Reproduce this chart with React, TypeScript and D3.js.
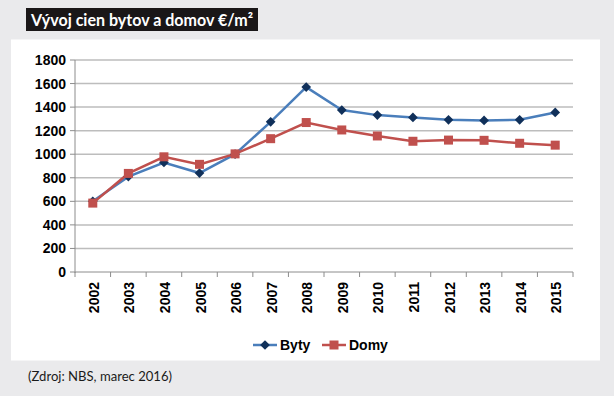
import React from "react";
import * as d3 from "d3";

const years = ["2002","2003","2004","2005","2006","2007","2008","2009","2010","2011","2012","2013","2014","2015"];
const byty = [600, 810, 930, 840, 1000, 1275, 1570, 1375, 1332, 1312, 1292, 1287, 1292, 1355];
const domy = [585, 837, 978, 914, 1003, 1132, 1269, 1206, 1155, 1110, 1120, 1118, 1093, 1077];
const yTicks = [0, 200, 400, 600, 800, 1000, 1200, 1400, 1600, 1800];
const seriesNames = ["Byty", "Domy"];
const titleText = "Vývoj cien bytov a domov €/m²";
const sourceText = "(Zdroj: NBS, marec 2016)";

export default function App() {
  const W = 614, H = 396;
  const left = 75, right = 573, top = 60, bottom = 272;
  const x = d3.scaleBand<string>().domain(years).range([left, right]).padding(0);
  const y = d3.scaleLinear().domain([0, 1800]).range([bottom, top]);
  const cx = (yr: string) => (x(yr) as number) + x.bandwidth() / 2;
  const line = d3.line<number>().x((_, i) => cx(years[i])).y((d) => y(d));
  const blue = "#4a7ebb";
  const navy = "#10305a";
  const red = "#c0504d";
  const axisFont = "'Liberation Sans', Arial, sans-serif";
  const diamond = d3.symbol().type(d3.symbolDiamond2).size(60)() as string;
  const boundaries = years.map((yr) => x(yr) as number).concat([right]);

  return (
    <svg width={W} height={H} style={{ position: "absolute", left: 0, top: 0 }}>
      <rect x={0} y={0} width={W} height={H} fill="#eaeaec" />
      <rect x={11} y={39.5} width={589} height={321} fill="#ffffff" />
      <rect x={26} y={8} width={232} height={23} fill="#1a1718" />
      <text x={31} y={26} fill="#ffffff" fontFamily="Lato, 'Noto Sans', sans-serif" fontWeight={700}
        fontSize={17} textLength={222} lengthAdjust="spacingAndGlyphs">{titleText}</text>

      {yTicks.filter((t) => t > 0).map((t) => (
        <line key={"g" + t} x1={left} x2={right} y1={y(t)} y2={y(t)} stroke="#bdbdbd" strokeWidth={1.5} />
      ))}
      <line x1={left} x2={left} y1={top} y2={bottom + 1} stroke="#8c8c8c" strokeWidth={1} />
      <line x1={left} x2={right} y1={bottom} y2={bottom} stroke="#8c8c8c" strokeWidth={1} />
      {yTicks.map((t) => (
        <line key={"yt" + t} x1={left - 5} x2={left} y1={y(t)} y2={y(t)} stroke="#8c8c8c" strokeWidth={1} />
      ))}
      {boundaries.map((b, i) => (
        <line key={"xt" + i} x1={b} x2={b} y1={bottom} y2={bottom + 5} stroke="#8c8c8c" strokeWidth={1} />
      ))}
      {yTicks.map((t) => (
        <text key={"yl" + t} x={66} y={y(t)} dy="0.36em" textAnchor="end" fontFamily={axisFont}
          fontWeight={700} fontSize={14} fill="#000">{t}</text>
      ))}
      {years.map((yr) => (
        <text key={"xl" + yr} transform={`translate(${cx(yr) + 6},282) rotate(-90)`} textAnchor="end"
          fontFamily={axisFont} fontWeight={700} fontSize={14} fill="#000">{yr}</text>
      ))}

      <path d={line(byty) as string} fill="none" stroke={blue} strokeWidth={2.5} />
      <path d={line(domy) as string} fill="none" stroke={red} strokeWidth={2.5} />
      {byty.map((v, i) => (
        <path key={"bm" + i} d={diamond} transform={`translate(${cx(years[i])},${y(v)})`} fill={navy} />
      ))}
      {domy.map((v, i) => (
        <rect key={"dm" + i} x={cx(years[i]) - 4.5} y={y(v) - 4.5} width={9} height={9} fill={red} />
      ))}

      <line x1={253} x2={277} y1={345} y2={345} stroke={blue} strokeWidth={2.5} />
      <path d={diamond} transform="translate(265,345)" fill={navy} />
      <text x={280} y={345} dy="0.36em" fontFamily={axisFont} fontWeight={700} fontSize={14}>{seriesNames[0]}</text>
      <line x1={322} x2={346} y1={345} y2={345} stroke={red} strokeWidth={2.5} />
      <rect x={329.5} y={340.5} width={9} height={9} fill={red} />
      <text x={349} y={345} dy="0.36em" fontFamily={axisFont} fontWeight={700} fontSize={14}>{seriesNames[1]}</text>

      <text x={28} y={381} fontFamily="Lato, 'Noto Sans', sans-serif" fontSize={13} fill="#1a1a1a"
        textLength={144} lengthAdjust="spacingAndGlyphs">{sourceText}</text>
    </svg>
  );
}
